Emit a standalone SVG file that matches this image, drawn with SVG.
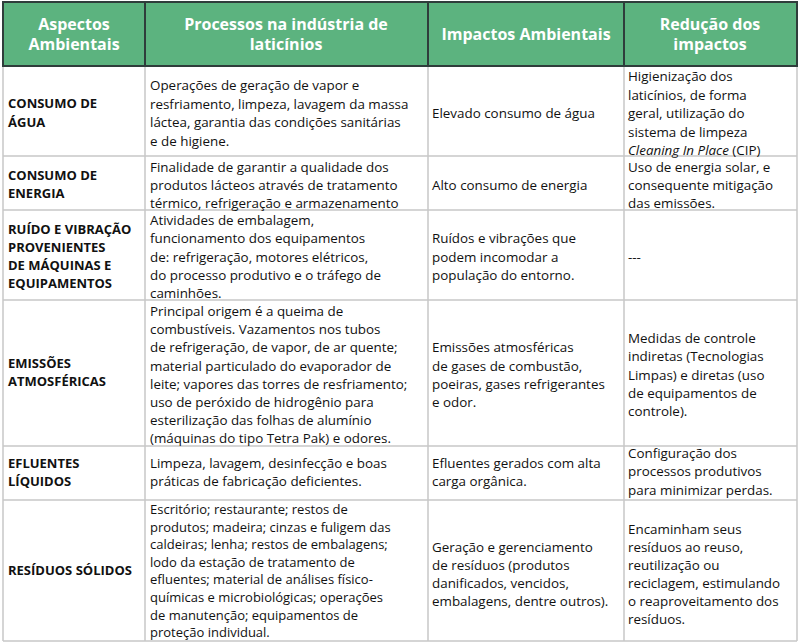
<svg xmlns="http://www.w3.org/2000/svg" width="800" height="644" viewBox="0 0 800 644">
<style>
text{font-family:"Open Sans","Noto Sans","Liberation Sans",sans-serif;font-size:13.4px;fill:#111}
.h{font-size:16px;font-weight:bold;fill:#fff;text-anchor:middle}
.b{font-weight:bold;font-size:13px}
.s{font-size:13px}
.g{stroke:#c8c8c8;stroke-width:1.5;fill:none}
.d{stroke:#2f3d3b;stroke-width:2;fill:none}
</style>
<rect x="0" y="0" width="800" height="644" fill="#fff"/>
<g id="header">
<rect x="3" y="2" width="794" height="64" fill="#5cb37f"/>
<text class="h" x="74" y="30">Aspectos</text><text class="h" x="74" y="50">Ambientais</text>
<text class="h" x="286" y="30">Processos na indústria de</text><text class="h" x="286" y="50">laticínios</text>
<text class="h" x="526" y="40">Impactos Ambientais</text>
<text class="h" x="710" y="30">Redução dos</text><text class="h" x="710" y="50">impactos</text>
</g>
<g id="grid">
<path class="g" d="M3 156H797M3 210H797M3 300H797M3 446H797M3 500H797M3 641H797M3 66V641M797 66V641M145 66V641M428 66V641M624 66V641"/>
<path class="d" d="M3 2H797V66H3ZM145 2V66M428 2V66M624 2V66"/>
</g>
<g id="row1">
<text class="b" x="8" y="108">CONSUMO DE</text><text class="b" x="8" y="127">ÁGUA</text>
<text x="150" y="90">Operações de geração de vapor e</text>
<text x="150" y="108.5">resfriamento, limpeza, lavagem da massa</text>
<text x="150" y="127">láctea, garantia das condições sanitárias</text>
<text x="150" y="145.5">e de higiene.</text>
<text x="432" y="118">Elevado consumo de água</text>
<text x="628" y="81">Higienização dos</text>
<text x="628" y="99.5">laticínios, de forma</text>
<text x="628" y="118">geral, utilização do</text>
<text x="628" y="136.5">sistema de limpeza</text>
<text x="628" y="155"><tspan font-style="italic">Cleaning In Place</tspan> (CIP)</text>
</g>
<g id="row2">
<text class="b" x="8" y="180">CONSUMO DE</text><text class="b" x="8" y="198">ENERGIA</text>
<text x="150" y="172">Finalidade de garantir a qualidade dos</text>
<text x="150" y="190">produtos lácteos através de tratamento</text>
<text x="150" y="208">térmico, refrigeração e armazenamento</text>
<text x="432" y="190">Alto consumo de energia</text>
<text x="628" y="172">Uso de energia solar, e</text>
<text x="628" y="190">consequente mitigação</text>
<text x="628" y="208">das emissões.</text>
</g>
<g id="row3">
<text class="b" x="8" y="234">RUÍDO E VIBRAÇÃO</text>
<text class="b" x="8" y="252">PROVENIENTES</text>
<text class="b" x="8" y="270">DE MÁQUINAS E</text>
<text class="b" x="8" y="288">EQUIPAMENTOS</text>
<text x="150" y="225">Atividades de embalagem,</text>
<text x="150" y="243">funcionamento dos equipamentos</text>
<text x="150" y="262">de: refrigeração, motores elétricos,</text>
<text x="150" y="280">do processo produtivo e o tráfego de</text>
<text x="150" y="298">caminhões.</text>
<text x="432" y="243">Ruídos e vibrações que</text>
<text x="432" y="262">podem incomodar a</text>
<text x="432" y="280">população do entorno.</text>
<text x="628" y="262">---</text>
</g>
<g id="row4">
<text class="b" x="8" y="368">EMISSÕES</text>
<text class="b" x="8" y="386">ATMOSFÉRICAS</text>
<text x="150" y="316">Principal origem é a queima de</text>
<text x="150" y="334">combustíveis. Vazamentos nos tubos</text>
<text x="150" y="352">de refrigeração, de vapor, de ar quente;</text>
<text x="150" y="371">material particulado do evaporador de</text>
<text x="150" y="389">leite; vapores das torres de resfriamento;</text>
<text x="150" y="407">uso de peróxido de hidrogênio para</text>
<text x="150" y="425">esterilização das folhas de alumínio</text>
<text x="150" y="443">(máquinas do tipo Tetra Pak) e odores.</text>
<text x="432" y="352">Emissões atmosféricas</text>
<text x="432" y="371">de gases de combustão,</text>
<text x="432" y="389">poeiras, gases refrigerantes</text>
<text x="432" y="407">e odor.</text>
<text x="628" y="343">Medidas de controle</text>
<text x="628" y="361">indiretas (Tecnologias</text>
<text x="628" y="380">Limpas) e diretas (uso</text>
<text x="628" y="398">de equipamentos de</text>
<text x="628" y="416">controle).</text>
</g>
<g id="row5">
<text class="b" x="8" y="468">EFLUENTES</text>
<text class="b" x="8" y="486">LÍQUIDOS</text>
<text x="150" y="468">Limpeza, lavagem, desinfecção e boas</text>
<text x="150" y="486">práticas de fabricação deficientes.</text>
<text x="432" y="468">Efluentes gerados com alta</text>
<text x="432" y="486">carga orgânica.</text>
<text x="628" y="458">Configuração dos</text>
<text x="628" y="476">processos produtivos</text>
<text x="628" y="495">para minimizar perdas.</text>
</g>
<g id="row6">
<text class="b" x="8" y="575">RESÍDUOS SÓLIDOS</text>
<text class="s" x="150" y="514">Escritório; restaurante; restos de</text>
<text class="s" x="150" y="531.6">produtos; madeira; cinzas e fuligem das</text>
<text class="s" x="150" y="549.2">caldeiras; lenha; restos de embalagens;</text>
<text class="s" x="150" y="566.8">lodo da estação de tratamento de</text>
<text class="s" x="150" y="584.4">efluentes; material de análises físico-</text>
<text class="s" x="150" y="602">químicas e microbiológicas; operações</text>
<text class="s" x="150" y="619.6">de manutenção; equipamentos de</text>
<text class="s" x="150" y="637.2">proteção individual.</text>
<text x="432" y="552">Geração e gerenciamento</text>
<text x="432" y="570">de resíduos (produtos</text>
<text x="432" y="588">danificados, vencidos,</text>
<text x="432" y="606">embalagens, dentre outros).</text>
<text x="628" y="534">Encaminham seus</text>
<text x="628" y="552">resíduos ao reuso,</text>
<text x="628" y="570">reutilização ou</text>
<text x="628" y="588">reciclagem, estimulando</text>
<text x="628" y="606">o reaproveitamento dos</text>
<text x="628" y="624">resíduos.</text>
</g>
</svg>
